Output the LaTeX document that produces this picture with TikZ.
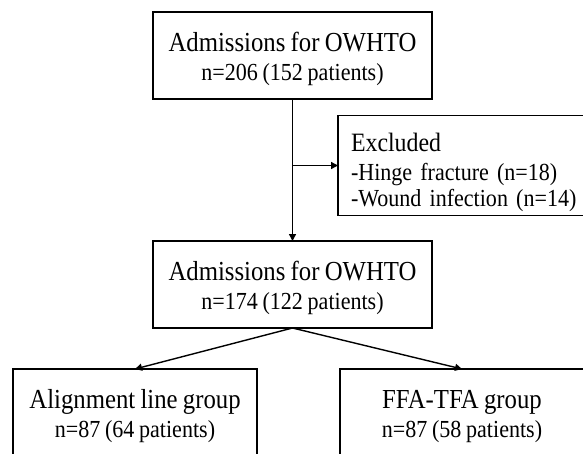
\documentclass[tikz,border=0pt]{standalone}
\usepackage{fontspec}
\setmainfont[FakeStretch=0.9,WordSpace=0.85]{Liberation Serif}
\usetikzlibrary{positioning,arrows.meta}

\newcommand{\bigline}{\fontsize{27.5}{29}\selectfont}
\newcommand{\smallline}{\fontsize{24.5}{26}\selectfont}
\newcommand{\headroom}[1]{\rule{0pt}{#1}}

\begin{document}
\begin{tikzpicture}[
  flowbox/.style={
    draw,
    line width=1.6pt,
    outer sep=0pt,
    inner sep=3pt,
    minimum height=87pt,
    align=center,
    font=\bigline
  },
  exclbox/.style={
    draw,
    line width=1.6pt,
    outer sep=0pt,
    inner xsep=13pt,
    inner ysep=0pt,
    minimum height=100pt,
    text width=228pt,
    align=left,
    font=\smallline
  },
  arr/.style={-{Triangle[length=7pt,width=7pt]},line width=1.4pt}
]
\useasboundingbox (0,0) rectangle (583pt,-453pt);
\clip (0,0) rectangle (583pt,-453pt);

\node[flowbox,minimum width=279pt] (first) at (292.5pt,-55.5pt)
  {\headroom{26.4pt}Admissions for OWHTO\\{\smallline n=206 (152 patients)}};
\node[flowbox,minimum width=279pt,below=142pt of first] (second)
  {\headroom{26.4pt}Admissions for OWHTO\\{\smallline n=174 (122 patients)}};
\node[exclbox,anchor=north west] (excl) at (338pt,-115.5pt)
  {\headroom{33pt}{\fontsize{26.5}{29}\selectfont Excluded}\\[3pt]-Hinge fracture (n=18)\\-Wound infection (n=14)};

\node[flowbox,minimum width=244pt,below=41pt of second,xshift=-157.5pt] (align)
  {\headroom{26.4pt}Alignment line group\\{\smallline n=87 (64 patients)}};
\node[flowbox,minimum width=244pt,below=41pt of second,xshift=169.5pt] (ffa)
  {\headroom{26.4pt}FFA-TFA group\\{\smallline n=87 (58 patients)}};

\draw[arr] (first) -- (second);
\draw[arr] (first.south |- excl.west) -- (excl.west);
\draw[arr] (second.south) -- (align.north);
\draw[arr] (second.south) -- (ffa.north);

\end{tikzpicture}
\end{document}
